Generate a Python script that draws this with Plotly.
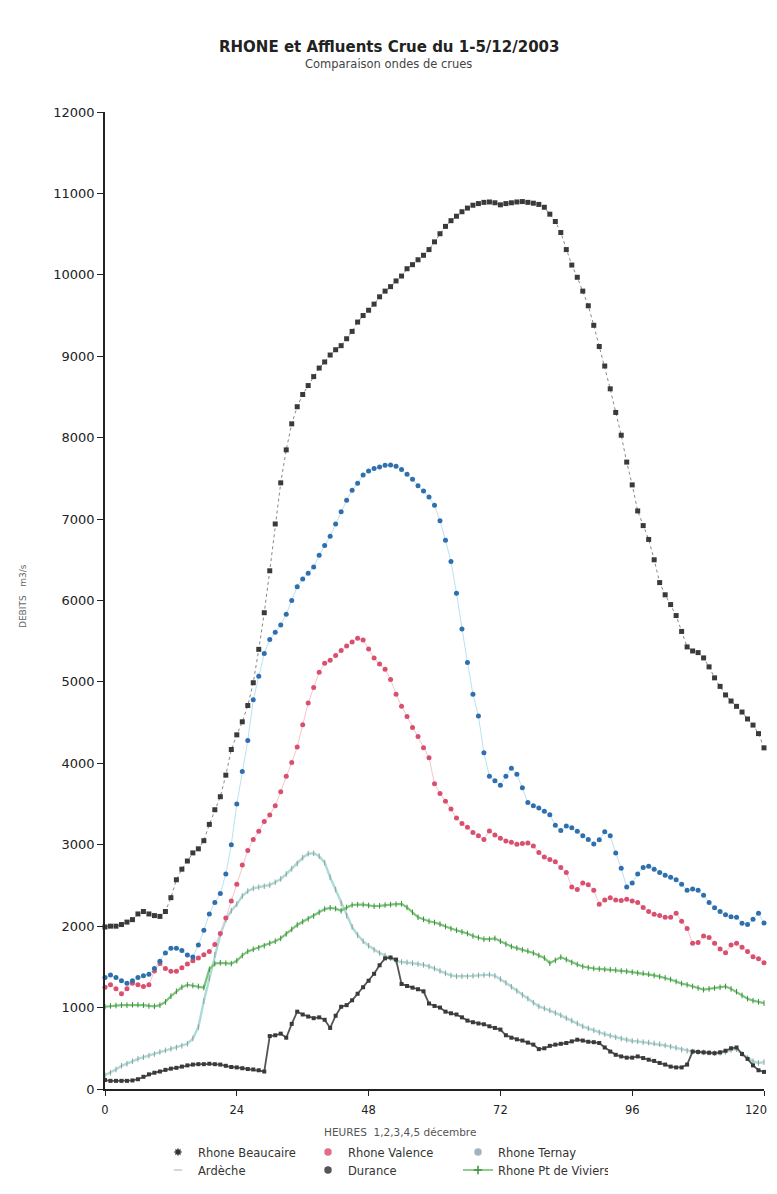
import plotly.graph_objects as go

hours = list(range(121))

beaucaire = [1990, 2000, 2000, 2020, 2050, 2080, 2150, 2180, 2150, 2130,
             2120, 2180, 2350, 2570, 2700, 2800, 2900, 2950, 3050, 3250,
             3430, 3590, 3855, 4170, 4350, 4510, 4710, 4990, 5400, 5850,
             6365, 6940, 7445, 7850, 8170, 8380, 8530, 8640, 8750, 8855,
             8930, 9015, 9080, 9130, 9215, 9305, 9420, 9500, 9565, 9640,
             9730, 9800, 9855, 9925, 9985, 10075, 10125, 10185, 10240, 10310,
             10405, 10505, 10595, 10665, 10720, 10775, 10820, 10855, 10875, 10890,
             10895, 10885, 10860, 10875, 10885, 10895, 10900, 10890, 10880, 10865,
             10830, 10745, 10655, 10520, 10310, 10120, 9970, 9800, 9620, 9380,
             9120, 8880, 8600, 8310, 8030, 7700, 7420, 7100, 6920, 6750,
             6500, 6220, 6070, 5950, 5815, 5620, 5430, 5380, 5360, 5295,
             5185, 5050, 4945, 4840, 4765, 4700, 4630, 4545, 4470, 4365,
             4190]

valence = [1250, 1280, 1230, 1170, 1230, 1300, 1280, 1260, 1280, 1450,
           1540, 1480, 1445, 1445, 1490, 1535, 1575, 1610, 1650, 1690,
           1775, 1910, 2100, 2310, 2515, 2750, 2930, 3065, 3165, 3285,
           3365, 3480, 3650, 3840, 4010, 4200, 4475, 4740, 4930, 5120,
           5230, 5265, 5325, 5385, 5440, 5490, 5535, 5515, 5405, 5295,
           5220, 5155, 5030, 4850, 4700, 4575, 4440, 4330, 4190, 4070,
           3750, 3630, 3535, 3440, 3330, 3260, 3215, 3150, 3110, 3065,
           3170, 3120, 3080, 3045, 3030, 3005, 3015, 3020, 2985, 2905,
           2850, 2820, 2790, 2720, 2660, 2480, 2450, 2530, 2510, 2440,
           2270, 2320, 2350, 2320, 2315, 2330, 2310, 2290, 2230, 2180,
           2145, 2130, 2110, 2110, 2160, 2060, 1970, 1790, 1800, 1880,
           1860, 1790, 1720, 1675, 1770, 1790, 1740, 1690, 1625, 1600,
           1550]

ternay = [1370, 1400, 1370, 1330, 1300, 1330, 1370, 1390, 1410, 1480,
          1570, 1670, 1730, 1730, 1700, 1645, 1620, 1770, 1950, 2150,
          2290, 2400, 2640, 3000, 3500, 3900, 4280, 4780, 5070, 5350,
          5520, 5610, 5700, 5830, 6000, 6170, 6265, 6335, 6410, 6555,
          6675, 6790, 6940, 7090, 7230, 7355, 7440, 7540, 7590, 7620,
          7640, 7660, 7665, 7650, 7610, 7550, 7490, 7410, 7345, 7270,
          7170, 6980, 6740, 6480, 6090, 5650, 5240, 4850, 4580, 4130,
          3840, 3785, 3730, 3840, 3940, 3865, 3700, 3520, 3480, 3450,
          3410, 3370, 3240, 3175, 3230, 3210, 3165, 3110, 3065, 3010,
          3060, 3160, 3110, 2900, 2710, 2480, 2530, 2640, 2720, 2735,
          2700, 2660, 2625, 2600, 2570, 2515, 2440, 2455, 2440, 2380,
          2290, 2225, 2180, 2140, 2115, 2110, 2035, 2020, 2085, 2160,
          2040]

ardeche = [170, 200, 240, 285, 310, 340, 370, 390, 410, 430,
           455, 475, 495, 510, 530, 555, 620, 760, 1080, 1360,
           1650, 1900, 2080, 2190, 2270, 2370, 2430, 2465, 2480, 2490,
           2505, 2540, 2580, 2640, 2705, 2770, 2840, 2890, 2895, 2860,
           2780, 2600, 2450, 2280, 2130, 1990, 1890, 1815, 1760, 1710,
           1670, 1640, 1605, 1570, 1560, 1555, 1545, 1535, 1525, 1505,
           1480, 1450, 1420, 1395, 1385, 1385, 1385, 1390, 1395, 1400,
           1405, 1390, 1350, 1305, 1255, 1205, 1155, 1110, 1060, 1015,
           990, 965, 935, 905, 870, 840, 805, 770, 745, 720,
           695, 675, 655, 635, 620, 605, 590, 585, 575, 570,
           560, 550, 535, 520, 505, 485, 470, 460, 455, 450,
           445, 440, 445, 455, 480, 490, 430, 380, 340, 320,
           330]

durance = [110, 100, 100, 100, 100, 105, 120, 150, 180, 200,
           215, 235, 250, 260, 275, 290, 300, 305, 305, 310,
           305, 300, 285, 270, 265, 255, 245, 240, 230, 215,
           650, 660, 680, 630, 800, 950, 915, 890, 870, 880,
           850, 750, 900, 1010, 1030, 1090, 1170, 1250, 1330, 1415,
           1520, 1605, 1615, 1590, 1290, 1265, 1245, 1225, 1200, 1050,
           1020, 1000, 950, 930, 915, 880, 840, 820, 805, 795,
           770, 750, 730, 660, 630, 610, 595, 570, 545, 490,
           500, 530, 545, 555, 565, 585, 605, 595, 580, 575,
           565, 510, 460, 420, 400, 385, 385, 400, 380, 360,
           345, 320, 300, 275, 265, 265, 300, 460, 455, 450,
           445, 440, 450, 470, 500, 510, 430, 370, 290, 230,
           210]

viviers = [1010, 1020, 1025, 1030, 1030, 1035, 1035, 1030, 1020, 1015,
           1030, 1070, 1140, 1200, 1250, 1280, 1270, 1260, 1245, 1470,
           1540, 1550, 1545, 1540, 1575, 1640, 1690, 1715, 1735, 1760,
           1790, 1815, 1850, 1905, 1960, 2015, 2055, 2090, 2125, 2170,
           2210, 2225, 2215, 2190, 2230, 2260, 2265, 2265, 2255, 2245,
           2250, 2260, 2265, 2270, 2275, 2230, 2170, 2110, 2085, 2060,
           2045, 2025, 1995, 1970, 1950, 1930, 1910, 1880, 1860, 1840,
           1840, 1850, 1815, 1780, 1750, 1730, 1710, 1695, 1670, 1640,
           1610, 1545, 1580, 1620, 1590, 1555, 1530, 1505, 1490, 1480,
           1475, 1470, 1465, 1460, 1450, 1445, 1435, 1425, 1420, 1410,
           1395, 1380, 1365, 1345, 1320, 1295, 1280, 1260, 1240, 1220,
           1230, 1240, 1250, 1260, 1230, 1195, 1150, 1110, 1085, 1070,
           1055]

x_ticks = [0, 24, 48, 72, 96, 120]
x_ticklabels = ["0", "24", "48", "72", "96", "120"]
y_ticks = [0, 1000, 2000, 3000, 4000, 5000, 6000, 7000, 8000, 9000, 10000, 11000, 12000]

FONT = "DejaVu Sans, Liberation Sans, Arial, sans-serif"

# The page body has an 8px margin; size the figure so the page does not overflow.
OFF = 8
W, H = 777 - 2 * OFF, 1194 - 2 * OFF
# plot area in page pixels: x 105..764, y 112..1089
PL, PR, PT, PB = 105, 764, 112, 1089
L, T = PL - OFF, PT - OFF
R, B = W - (PR - OFF), H - (PB - OFF)
PW, PH = PR - PL, PB - PT


def px_x(px):
    return (px - PL) / PW


def px_y(py):
    return (PB - py) / PH


fig = go.Figure()

fig.add_trace(go.Scatter(
    x=hours[:len(ardeche)], y=ardeche, mode="lines+markers", showlegend=False,
    line=dict(color="#a9dcd6", width=2.4),
    marker=dict(symbol="line-ns", size=4, color="#9a9a9a", line=dict(width=1, color="#9a9a9a")),
    cliponaxis=False))

fig.add_trace(go.Scatter(
    x=hours[:len(viviers)], y=viviers, mode="lines+markers", showlegend=False,
    line=dict(color="#7cc47a", width=2.2),
    marker=dict(symbol="line-ns", size=4, color="#3e8e41", line=dict(width=1, color="#3e8e41")),
    cliponaxis=False))

fig.add_trace(go.Scatter(
    x=hours[:len(durance)], y=durance, mode="lines+markers", showlegend=False,
    line=dict(color="#555555", width=1.8),
    marker=dict(symbol="square", size=4, color="#3a3a3a"),
    cliponaxis=False))

fig.add_trace(go.Scatter(
    x=hours[:len(valence)], y=valence, mode="lines+markers", showlegend=False,
    line=dict(color="#f6c3d0", width=1),
    marker=dict(symbol="circle", size=5, color="#d9506f"),
    cliponaxis=False))

fig.add_trace(go.Scatter(
    x=hours[:len(ternay)], y=ternay, mode="lines+markers", showlegend=False,
    line=dict(color="#b9e2f2", width=1),
    marker=dict(symbol="circle", size=5, color="#2f6fae"),
    cliponaxis=False))

fig.add_trace(go.Scatter(
    x=hours[:len(beaucaire)], y=beaucaire, mode="lines+markers", showlegend=False,
    line=dict(color="#888888", width=1, dash="dot"),
    marker=dict(symbol="square", size=5, color="#3a3a3a"),
    cliponaxis=False))

legend_rows = [
    ("Rhone Beaucaire", "markers", "asterisk-open", "#333333", "legend"),
    ("Rhone Valence", "markers", "circle", "#e0708a", "legend"),
    ("Rhone Ternay", "markers", "circle", "#9fb3c0", "legend"),
    ("Ardèche", "markers", "line-ew-open", "#c8c8c8", "legend2"),
    ("Durance", "markers", "circle", "#555555", "legend2"),
    ("Rhone Pt de Viviers", "lines+markers", "cross-thin-open", "#3e8e41", "legend2"),
]
for name, mode, sym, col, lg in legend_rows:
    fig.add_trace(go.Scatter(
        x=[None], y=[None], name=name, mode=mode, legend=lg,
        line=dict(color="#8fcf8c", width=2),
        marker=dict(symbol=sym, size=6, color=col, line=dict(width=1.5, color=col))))

leg_common = dict(orientation="h", xref="container", yref="container",
                  xanchor="left", yanchor="middle",
                  entrywidth=105, entrywidthmode="pixels",
                  font=dict(family=FONT, size=11.5, color="#333333"),
                  bgcolor="rgba(0,0,0,0)", borderwidth=0)

TICKFONT_X = dict(family=FONT, size=11.5, color="#222")

LEG_X = (158 - OFF) / W
fig.update_layout(
    width=W, height=H,
    paper_bgcolor="white", plot_bgcolor="white",
    margin=dict(l=L, r=R, t=T, b=B, autoexpand=False),
    font=dict(family=FONT, size=11, color="#333333"),
    showlegend=True,
    legend=dict(x=LEG_X, y=1 - (1152 - OFF) / H, **leg_common),
    legend2=dict(x=LEG_X, y=1 - (1170 - OFF) / H, **leg_common),
    annotations=[
        dict(text="<b>RHONE et Affluents Crue du 1-5/12/2003</b>", x=px_x(389), y=px_y(47),
             xref="paper", yref="paper", showarrow=False, xanchor="center", yanchor="middle",
             font=dict(family=FONT, size=15, color="#222")),
        dict(text="Comparaison ondes de crues", x=px_x(388), y=px_y(64),
             xref="paper", yref="paper", showarrow=False, xanchor="center", yanchor="middle",
             font=dict(family=FONT, size=11.5, color="#444")),
        dict(text="HEURES  1,2,3,4,5 décembre", x=px_x(400), y=px_y(1132),
             xref="paper", yref="paper", showarrow=False, xanchor="center", yanchor="middle",
             font=dict(family=FONT, size=10.5, color="#555")),
        dict(text="DEBITS   m3/s", x=px_x(23), y=px_y(596), textangle=-90,
             xref="paper", yref="paper", showarrow=False, xanchor="center", yanchor="middle",
             font=dict(family=FONT, size=9, color="#666")),
        # last x tick label placed so it stays inside the page
        dict(text=x_ticklabels[-1], x=px_x(768), y=px_y(1110),
             xref="paper", yref="paper", showarrow=False, xanchor="right", yanchor="middle",
             borderpad=0, font=TICKFONT_X),
    ],
)

fig.update_xaxes(
    range=[0, 120], tickvals=x_ticks, ticktext=x_ticklabels[:-1] + [""],
    automargin=False,
    showgrid=False, zeroline=False, showline=True, linecolor="#222", linewidth=1.5,
    ticks="outside", ticklen=5, tickcolor="#222", ticklabelstandoff=4,
    tickfont=TICKFONT_X,
)
fig.update_yaxes(
    range=[0, 12000], tickvals=y_ticks, ticktext=[str(v) for v in y_ticks],
    automargin=False,
    showgrid=False, zeroline=False, showline=True, linecolor="#222", linewidth=1.5,
    ticks="outside", ticklen=6, tickcolor="#222",
    tickfont=dict(family=FONT, size=13, color="#222"),
)

fig.write_html("out.html")
